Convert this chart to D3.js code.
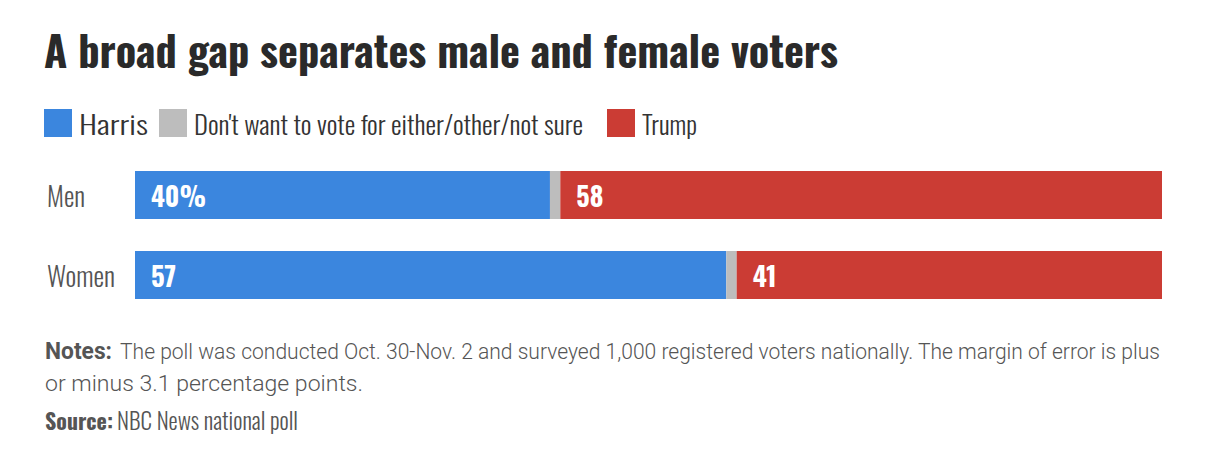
<!DOCTYPE html>
<html lang="en">
<head>
<meta charset="utf-8">
<script type="text/javascript" src="https://cdnjs.cloudflare.com/ajax/libs/d3/7.8.5/d3.min.js"></script>
<style>
body { margin: 0; background: #fff; }
svg { display: block; }
svg text { font-family: "Oswald", "Roboto Condensed", Roboto, sans-serif; }
svg text.tight { font-family: "Liberation Sans Narrow", Roboto, sans-serif; }
</style>
</head>
<body>
<script type="text/javascript">
    // data
    var groups = ["Men", "Women"]
    var seriesNames = ["Harris", "Don't want to vote for either/other/not sure", "Trump"]
    var harris = [40, 57]
    var notSure = [1, 1]
    var trump = [58, 41]
    var colors = ["#3b86de", "#bdbdbd", "#cb3c34"]

    var w = 1224
    var h = 468

    var svg = d3.select("body")
                .append("svg")
                .attr("width", w)
                .attr("height", h)

    // a set of labels sharing one size: shrink the size until each one's
    // natural width fits its room (defaults to its width), then pin each to its width
    function fitGroup(items, size, weight, fill, cls) {
        var nodes = items.map(function(it) {
            return svg.append("text")
                .attr("class", cls || null)
                .attr("x", it.x)
                .attr("y", it.y)
                .attr("font-size", size)
                .attr("font-weight", weight)
                .attr("fill", fill)
                .text(it.text)
        })
        var ratio = d3.min(nodes, function(t, i) {
            return (items[i].room || items[i].width) / t.node().getComputedTextLength()
        })
        var s = ratio < 1 ? size * ratio : size
        nodes.forEach(function(t, i) {
            t.attr("font-size", s)
             .attr("textLength", items[i].width)
             .attr("lengthAdjust", "spacingAndGlyphs")
        })
        return nodes
    }

    // title
    fitGroup([{ x: 44, y: 68, text: "A broad gap separates male and female voters", width: 794 }], 54, 700, "#2a2a2a")

    // legend
    var legendX = [44, 159, 607]
    var legendW = [69, 389, 55]
    seriesNames.forEach(function(name, i) {
        svg.append("rect")
            .attr("x", legendX[i])
            .attr("y", 109)
            .attr("width", 28)
            .attr("height", 28)
            .attr("fill", colors[i])
    })
    fitGroup(seriesNames.map(function(name, i) {
        return { x: legendX[i] + 35, y: 135, text: name, width: legendW[i] }
    }), 33, 300, "#333")

    // bars
    var rows = groups.map(function(g, i) {
        return { group: g, values: [harris[i], notSure[i], trump[i]] }
    })

    var x = d3.scaleLinear()
        .domain([0, d3.max(rows, function(d) { return d3.sum(d.values) })])
        .range([135, 1162])

    var y = d3.scaleBand()
        .domain(groups)
        .range([171, 299])
        .paddingInner(0.4)

    var rowG = svg.selectAll("g.row")
        .data(rows)
        .enter()
        .append("g")
        .attr("class", "row")

    rowG.selectAll("rect")
        .data(function(d) {
            var acc = 0
            return d.values.map(function(v, i) {
                var seg = { group: d.group, i: i, v: v, x0: acc, x1: acc + v }
                acc += v
                return seg
            })
        })
        .enter()
        .append("rect")
        .attr("x", function(d) { return x(d.x0) })
        .attr("y", function(d) { return y(d.group) })
        .attr("width", function(d) { return x(d.x1) - x(d.x0) })
        .attr("height", y.bandwidth())
        .attr("fill", function(d) { return colors[d.i] })

    // category labels
    var catW = [38, 68]
    fitGroup(groups.map(function(g, i) {
        return { x: 47, y: y(g) + 36, text: g, width: catW[i] }
    }), 31, 300, "#555")

    // value labels inside harris and trump segments
    var valueLabels = []
    rows.forEach(function(r, ri) {
        var hLabel = ri === 0 ? r.values[0] + "%" : String(r.values[0])
        valueLabels.push({ x: x(0) + 16, y: y(r.group) + 36, text: hLabel, width: ri === 0 ? 55 : 25 })
        valueLabels.push({ x: x(r.values[0] + r.values[1]) + 16, y: y(r.group) + 36, text: String(r.values[2]), width: ri === 0 ? 27 : 24 })
    })
    fitGroup(valueLabels, 31, 700, "#fff")

    // notes, in a face with a shorter line box so the two lines don't collide
    fitGroup([{ x: 45, y: 359, text: "Notes:", width: 67, room: 73 }], 25.5, 700, "#555", "tight")
    fitGroup([
        { x: 120, y: 359, text: "The poll was conducted Oct. 30-Nov. 2 and surveyed 1,000 registered voters nationally. The margin of error is plus", width: 1040, room: 1096 },
        { x: 45, y: 391, text: "or minus 3.1 percentage points.", width: 318, room: 360 }
    ], 25.5, 300, "#555", "tight")

    // source
    fitGroup([{ x: 45, y: 430, text: "Source:", width: 68 }], 24, 700, "#555")
    fitGroup([{ x: 117, y: 430, text: "NBC News national poll", width: 181 }], 24, 300, "#555")
</script>
</body>
</html>
